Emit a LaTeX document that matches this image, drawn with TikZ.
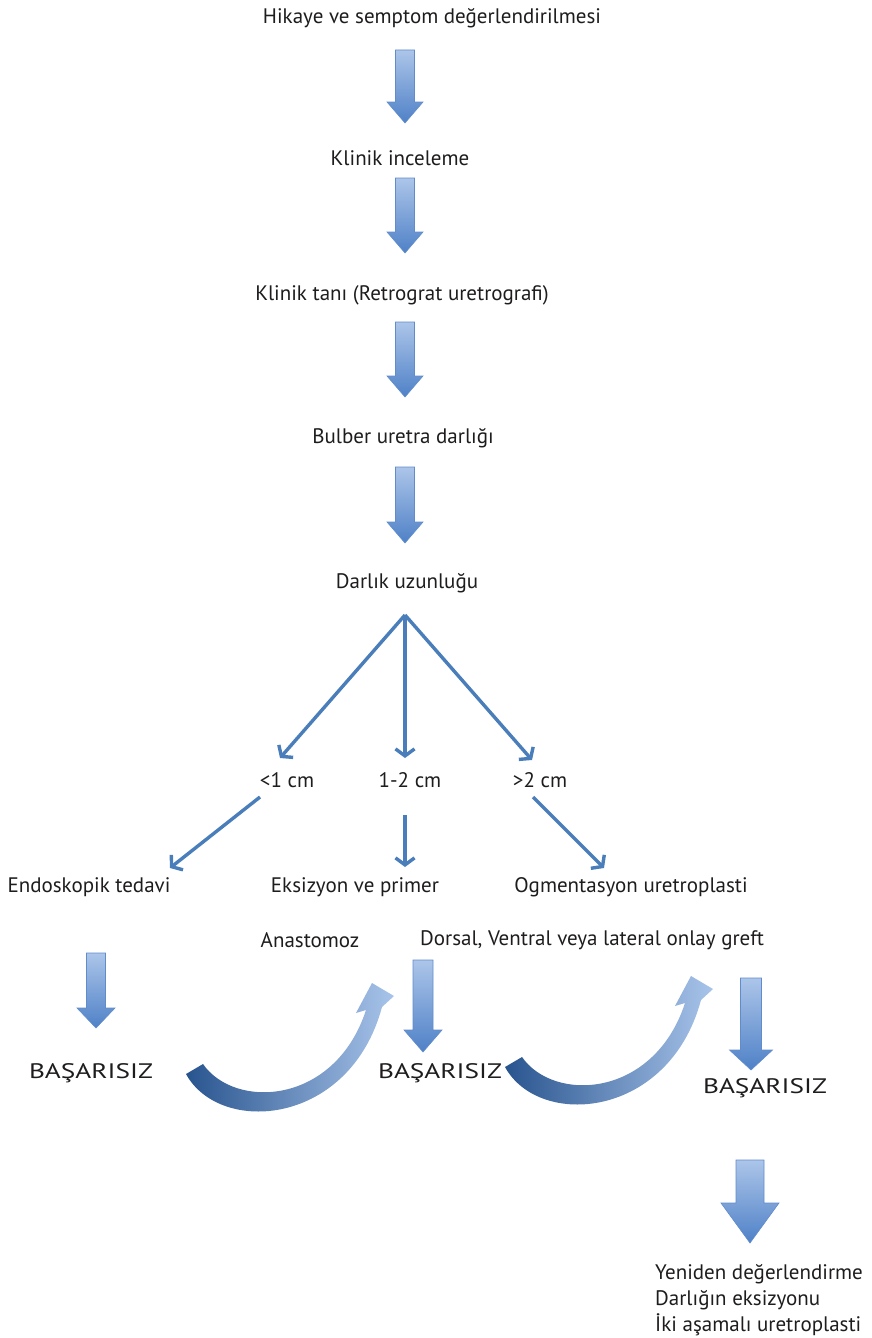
\documentclass[tikz,border=0pt]{standalone}
\usepackage{fontspec}
\setmainfont{PT Sans}
\usepackage{tikz}
\usetikzlibrary{
	arrows.meta,
	calc,
	positioning
}
\definecolor{LineBlue}{RGB}{74,126,187}
\definecolor{ArrowTop}{RGB}{172,197,233}
\definecolor{ArrowBottom}{RGB}{79,129,199}
\definecolor{ArrowEdge}{RGB}{96,140,204}
\definecolor{TurnDark}{RGB}{40,84,142}
\definecolor{TurnLight}{RGB}{168,196,234}
\definecolor{TextGray}{RGB}{30,28,28}

\tikzset{
	txt/.style={font=\fontsize{21}{26}\selectfont, text=TextGray, inner sep=2pt},
	caps/.style={txt, font=\fontsize{21}{26}\selectfont\addfontfeature{FakeStretch=1.3}},
	conn/.style={draw=LineBlue, line width=3.4pt, -{Straight Barb[length=7pt,width=19pt,line width=3.4pt]}},
	blockfill/.style={top color=ArrowTop, bottom color=ArrowBottom, draw=ArrowEdge, line width=0.6pt},
	turnfill/.style={left color=TurnDark, right color=TurnLight, draw=none},
	% length, shaft width, head width, head length
	pics/downarrow/.style n args={4}{code={
		\path[blockfill] (-#2/2,-#1/2) -- (#2/2,-#1/2) -- (#2/2,#1/2-#4) -- (#3/2,#1/2-#4)
			-- (0,#1/2) -- (-#3/2,#1/2-#4) -- (-#2/2,#1/2-#4) -- cycle;
	}},
	pics/uturn/.style={code={
		\path[turnfill] (-94,24) .. controls (-60,86) and (70,76) .. (102,-43)
			-- (114,-54) -- (92,-67) -- (76,-37) -- (86,-40)
			.. controls (55,55) and (-45,60) .. (-77,14) -- cycle;
	}}
}

\begin{document}
\begin{tikzpicture}[x=1pt, y=-1pt]
	\useasboundingbox (0,0) rectangle (871,1338);

	% main line
	\node[txt] (hik) at (432,18) {Hikaye ve semptom değerlendirilmesi};
	\node[txt] (kli) at (400,158) {Klinik inceleme};
	\node[txt] (tan) at (402,295) {Klinik tanı (Retrograt uretrografi)};
	\node[txt] (bul) at (403,438) {Bulber uretra darlığı};
	\node[txt] (dar) at (407,583) {Darlık uzunluğu};

	\pic at (405,86.5) {downarrow={73}{19}{36}{21}};
	\pic at (405,215.5) {downarrow={75}{19}{36}{21}};
	\pic at (405,359.5) {downarrow={75}{19}{36}{21}};
	\pic at (405,505) {downarrow={76}{19}{36}{21}};

	% lengths
	\node[txt] (lt) at (287,780) {<1 cm};
	\node[txt] (mid) at (410,780) {1-2 cm};
	\node[txt] (gt) at (540,780) {>2 cm};

	\coordinate (split) at (405,615);
	\coordinate (lt-in) at (280,758);
	\coordinate (mid-in) at (405,758);
	\coordinate (gt-in) at (532,760);
	\draw[conn] (split) -- (lt-in);
	\draw[conn] (split) -- (mid-in);
	\draw[conn] (split) -- (gt-in);

	% treatments
	\node[txt] (endo) at (89,887) {Endoskopik tedavi};
	\node[txt] (eks) at (355,887) {Eksizyon ve primer};
	\node[txt] (ogm) at (631,887) {Ogmentasyon uretroplasti};
	\node[txt] (ana) at (310,940) {Anastomoz};
	\node[txt] (dor) at (592,940) {Dorsal, Ventral veya lateral onlay greft};

	\coordinate (lt-out) at (260,797);
	\coordinate (mid-out) at (405,815);
	\coordinate (gt-out) at (533,797);
	\coordinate (endo-in) at (170,868);
	\coordinate (eks-in) at (405,867);
	\coordinate (ogm-in) at (604,868);
	\draw[conn] (lt-out) -- (endo-in);
	\draw[conn] (mid-out) -- (eks-in);
	\draw[conn] (gt-out) -- (ogm-in);

	% failures
	\pic at (96,990.5) {downarrow={75}{19}{38}{20}};
	\pic at (423,1006) {downarrow={92}{20}{38}{22}};
	\pic at (751,1024) {downarrow={92}{21}{43}{20}};

	\node[caps] (bas1) at (91,1073) {BAŞARISIZ};
	\node[caps] (bas2) at (440,1073) {BAŞARISIZ};
	\node[caps] (bas3) at (765,1088) {BAŞARISIZ};

	\pic at (280,1050) {uturn};
	\pic at (599,1043) {uturn};

	\pic at (750,1201.5) {downarrow={83}{28}{58}{40}};
	\node[txt, align=left, anchor=north west] (son) at (653,1262)
		{Yeniden değerlendirme\\Darlığın eksizyonu\\İki aşamalı uretroplasti};
\end{tikzpicture}
\end{document}
